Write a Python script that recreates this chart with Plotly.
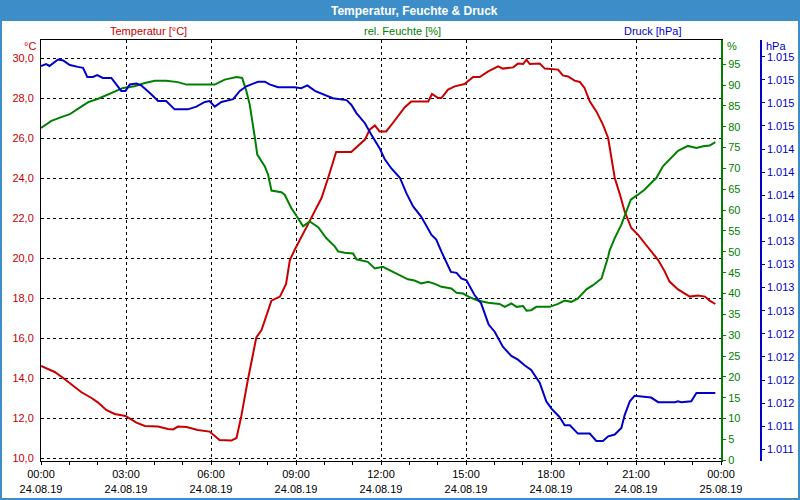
import pandas as pd
import plotly.graph_objects as go

DAY = "2019-08-24 "

# Temperature [°C]
temp_time = ["00:00","00:29","00:47","01:01","01:25","01:47","02:01","02:18","02:36","02:59",
             "03:22","03:40","04:08","04:29","04:40","04:50","05:08","05:32","05:57","06:18",
             "06:43","06:54","07:04","07:18","07:36","07:47","08:04","08:08","08:26","08:39",
             "08:47","08:57","09:25","09:54","10:08","10:25","10:57","11:11","11:26","11:36",
             "11:47","11:57","12:11","12:25","12:50","13:04","13:40","13:48","14:01","14:08",
             "14:22","14:36","14:57","15:15","15:29","15:47","16:08","16:18","16:40","16:50",
             "17:01","17:08","17:15","17:36","17:47","18:15","18:25","18:36","18:50","19:01",
             "19:11","19:22","19:36","19:50","20:01","20:08","20:15","20:26","20:36","20:50",
             "21:04","21:18","21:32","21:47","22:01","22:11","22:29","22:43","22:54","23:11",
             "23:26","23:36","23:48"]
temp_vals = [14.6,14.3,14.0,13.73,13.3,13.0,12.77,12.4,12.2,12.1,
             11.77,11.6,11.57,11.45,11.43,11.57,11.55,11.4,11.32,10.9,
             10.87,11.0,12.07,13.9,16.03,16.4,17.57,17.87,18.07,18.7,
             19.9,20.4,21.67,23.0,24.0,25.3,25.3,25.58,25.92,26.42,
             26.63,26.33,26.33,26.75,27.53,27.83,27.83,28.2,28.0,28.0,
             28.42,28.58,28.7,29.05,29.05,29.33,29.58,29.47,29.53,29.72,
             29.7,29.92,29.7,29.72,29.47,29.42,29.13,29.08,28.87,28.8,
             28.5,27.83,27.33,26.67,26.0,25.0,24.0,23.17,22.33,21.5,
             21.17,20.75,20.33,19.9,19.32,18.82,18.43,18.23,18.07,18.12,
             18.07,17.87,17.7]

# Relative humidity [%]
hum_time = ["00:00","00:08","00:22","00:43","01:01","01:18","01:40","02:01","02:22","02:43",
            "02:54","03:18","03:40","04:01","04:25","04:50","05:08","06:08","06:29","06:54",
            "07:06","07:15","07:22","07:33","07:38","07:54","08:01","08:08","08:29","08:36",
            "08:50","09:04","09:15","09:29","09:47","10:04","10:22","10:29","10:43","11:01",
            "11:08","11:32","11:47","12:04","12:25","12:43","12:57","13:11","13:25","13:40",
            "13:54","14:08","14:29","14:40","14:54","15:08","15:25","15:47","16:11","16:22",
            "16:36","16:47","17:01","17:08","17:18","17:29","17:57","18:15","18:29","18:43",
            "18:57","19:15","19:29","19:47","19:54","20:01","20:04","20:15","20:29","20:40",
            "20:49","21:04","21:18","21:32","21:43","21:57","22:15","22:29","22:50","23:08",
            "23:22","23:36","23:48"]
hum_vals = [79.7,80.3,81.4,82.3,83.0,84.3,85.9,86.7,87.8,88.9,
            89.3,89.7,90.5,91.0,91.0,90.7,90.1,90.1,91.3,91.9,
            91.7,88.5,85.3,77.3,73.3,70.5,68.5,64.7,64.3,63.7,
            60.5,58.1,56.1,57.3,55.9,53.3,51.3,50.1,49.8,49.6,
            48.2,47.6,46.0,46.4,45.2,44.2,43.4,43.1,42.4,42.8,
            42.3,41.6,41.2,40.2,40.0,39.1,38.3,37.8,37.5,36.8,
            37.6,36.8,37.0,35.9,36.0,36.8,36.8,37.5,38.3,38.0,
            38.8,41.0,42.0,43.6,46.0,48.8,50.3,53.3,56.5,59.7,
            62.5,63.7,64.9,66.5,67.7,70.5,72.5,74.2,75.4,74.9,
            75.3,75.5,76.3]

# Pressure [hPa]
press_time = ["00:00","00:11","00:18","00:36","00:47","01:01","01:18","01:29","01:38","01:50",
              "01:59","02:11","02:29","02:39","02:50","02:59","03:08","03:22","03:32","03:50",
              "04:08","04:25","04:43","05:11","05:29","05:47","05:57","06:08","06:22","06:47",
              "07:01","07:15","07:25","07:40","07:54","08:04","08:22","08:57","09:11","09:24",
              "09:40","10:01","10:18","10:47","10:57","11:08","11:26","11:39","11:57","12:08",
              "12:22","12:40","12:54","13:08","13:25","13:47","13:57","14:08","14:28","14:40",
              "14:50","15:01","15:18","15:32","15:48","16:01","16:11","16:18","16:36","16:50",
              "17:04","17:18","17:36","17:50","18:01","18:18","18:29","18:40","18:57","19:22",
              "19:36","19:50","20:01","20:15","20:29","20:36","20:47","20:57","21:32","21:47",
              "22:22","22:29","22:36","22:57","23:08","23:48"]
press_vals = [1015.30,1015.32,1015.30,1015.37,1015.36,1015.31,1015.29,1015.28,1015.18,1015.18,
              1015.20,1015.17,1015.17,1015.10,1015.03,1015.03,1015.10,1015.11,1015.09,1015.01,
              1014.92,1014.92,1014.83,1014.83,1014.86,1014.91,1014.92,1014.86,1014.91,1014.94,
              1015.03,1015.08,1015.10,1015.13,1015.13,1015.10,1015.07,1015.07,1015.06,1015.09,
              1015.03,1014.99,1014.95,1014.93,1014.88,1014.79,1014.68,1014.56,1014.41,1014.29,
              1014.19,1014.09,1013.92,1013.78,1013.67,1013.47,1013.42,1013.29,1013.07,1013.06,
              1013.00,1012.98,1012.82,1012.73,1012.50,1012.42,1012.33,1012.26,1012.16,1012.12,
              1012.06,1012.01,1011.87,1011.67,1011.59,1011.50,1011.41,1011.41,1011.32,1011.32,
              1011.24,1011.24,1011.29,1011.31,1011.38,1011.52,1011.67,1011.73,1011.71,1011.66,
              1011.66,1011.67,1011.66,1011.67,1011.76,1011.76]

temp_ticks = [10, 12, 14, 16, 18, 20, 22, 24, 26, 28, 30]
hum_ticks = [0, 5, 10, 15, 20, 25, 30, 35, 40, 45, 50, 55, 60, 65, 70, 75, 80, 85, 90, 95]
press_ticks = [1011.15, 1011.40, 1011.65, 1011.90, 1012.15, 1012.40, 1012.65, 1012.90, 1013.15,
               1013.40, 1013.65, 1013.90, 1014.15, 1014.40, 1014.65, 1014.90, 1015.15, 1015.40]

title_text = "Temperatur, Feuchte & Druck"
series_names = ["Temperatur [°C]", "rel. Feuchte [%]", "Druck [hPa]"]
unit_labels = ["°C", "%", "hPa"]

RED = "#c80000"
GREEN = "#008000"
BLUE = "#0000c8"
BAR = "#3d8ec8"
FONT = "Liberation Sans"

def to_dt(times):
    return pd.to_datetime([DAY + t for t in times])

fig = go.Figure()
fig.add_trace(go.Scatter(x=to_dt(temp_time), y=temp_vals, mode="lines",
                         line=dict(color=RED, width=2), yaxis="y", name=series_names[0]))
fig.add_trace(go.Scatter(x=to_dt(hum_time), y=hum_vals, mode="lines",
                         line=dict(color=GREEN, width=2), yaxis="y2", name=series_names[1]))
fig.add_trace(go.Scatter(x=to_dt(press_time), y=press_vals, mode="lines",
                         line=dict(color=BLUE, width=2), yaxis="y3", name=series_names[2]))

L, R, T, B = 41, 5, 40, 39
W, H = 800, 500
PW = W - L - R
PH = H - T - B
def px(x):
    return (x - L) / PW
def py(y):
    return (H - B - y) / PH

x_dom_end = (721 - L) / PW

fig.update_layout(
    width=W, height=H,
    margin=dict(l=L, r=R, t=T, b=B, autoexpand=False),
    paper_bgcolor="white", plot_bgcolor="white",
    separators=",.",
    showlegend=False,
    font=dict(family=FONT, size=11, color="black"),
    xaxis=dict(
        domain=[0, x_dom_end],
        range=["2019-08-24 00:00", "2019-08-25 00:00"],
        type="date", tickmode="linear", tick0="2019-08-24 00:00", dtick=3 * 3600 * 1000,
        tickformat="%H:%M<br>%d.%m.%y",
        ticks="outside", ticklen=3, tickcolor="black", tickwidth=1,
        minor=dict(dtick=3600 * 1000, ticks="outside", ticklen=3, tickcolor="black", showgrid=False),
        showgrid=True, gridcolor="black", gridwidth=1, griddash="3px,3px",
        showline=True, linecolor="black", linewidth=1, mirror=True,
        zeroline=False, tickfont=dict(family=FONT, size=11, color="black"),
    ),
    yaxis=dict(
        range=[9.85, 30.9], tickmode="array", tickvals=temp_ticks, tickformat=".1f",
        ticks="", ticklabelstandoff=4,
        showgrid=True, gridcolor="black", gridwidth=1, griddash="3px,3px",
        showline=True, linecolor="black", linewidth=1, zeroline=False,
        tickfont=dict(family=FONT, size=11, color=RED),
    ),
    yaxis2=dict(
        overlaying="y", side="right", anchor="x",
        range=[-0.17, 100.8], tickmode="array", tickvals=hum_ticks, tickformat="d",
        ticks="outside", ticklen=3, tickcolor=GREEN, tickwidth=1,
        showgrid=False, showline=True, linecolor=GREEN, linewidth=2, zeroline=False,
        tickfont=dict(family=FONT, size=11, color=GREEN),
    ),
    yaxis3=dict(
        overlaying="y", side="right", anchor="free", position=px(761),
        range=[1011.023, 1015.581], tickmode="array", tickvals=press_ticks, tickformat=",.0f",
        ticks="outside", ticklen=3, tickcolor=BLUE, tickwidth=1,
        showgrid=False, showline=True, linecolor=BLUE, linewidth=1.5, zeroline=False,
        tickfont=dict(family=FONT, size=11, color=BLUE),
    ),
)

shapes = [
    dict(type="rect", xref="paper", yref="paper", x0=px(0), x1=px(800), y0=py(21), y1=py(0),
         fillcolor=BAR, line=dict(width=0), layer="above"),
    dict(type="line", xref="paper", yref="paper", x0=px(1), x1=px(1), y0=py(500), y1=py(20),
         line=dict(color=BAR, width=2)),
    dict(type="line", xref="paper", yref="paper", x0=px(799), x1=px(799), y0=py(500), y1=py(20),
         line=dict(color=BAR, width=2)),
    dict(type="line", xref="paper", yref="paper", x0=px(0), x1=px(800), y0=py(499), y1=py(499),
         line=dict(color=BAR, width=2)),
]
fig.update_layout(shapes=shapes)

ann = [
    dict(text="<b>" + title_text + "</b>", x=px(414), y=py(10.5), font=dict(color="white", size=12, family=FONT),
         xanchor="center", yanchor="middle"),
    dict(text=series_names[0], x=px(148), y=py(31), font=dict(color=RED, size=11, family=FONT),
         xanchor="center", yanchor="middle"),
    dict(text=series_names[1], x=px(402), y=py(31), font=dict(color=GREEN, size=11, family=FONT),
         xanchor="center", yanchor="middle"),
    dict(text=series_names[2], x=px(652), y=py(31), font=dict(color=BLUE, size=11, family=FONT),
         xanchor="center", yanchor="middle"),
    dict(text=unit_labels[0], x=px(38), y=py(46), font=dict(color=RED, size=11, family=FONT),
         xanchor="right", yanchor="middle"),
    dict(text=unit_labels[1], x=px(725), y=py(46), font=dict(color=GREEN, size=11, family=FONT),
         xanchor="left", yanchor="middle"),
    dict(text=unit_labels[2], x=px(764), y=py(46), font=dict(color=BLUE, size=11, family=FONT),
         xanchor="left", yanchor="middle"),
]
for a in ann:
    a.update(xref="paper", yref="paper", showarrow=False)
fig.update_layout(annotations=ann)

fig.write_html("out.html")
